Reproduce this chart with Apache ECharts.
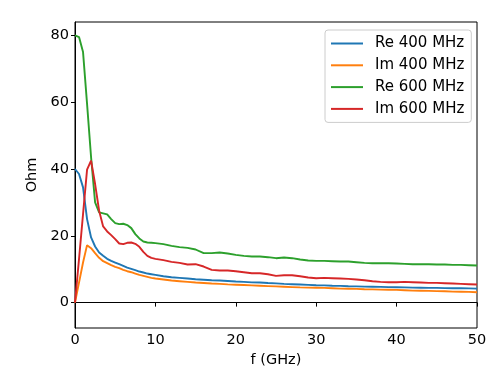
<!DOCTYPE html>
<html>
<head>
<meta charset="utf-8">
<script src="https://cdn.jsdelivr.net/npm/echarts@6/dist/echarts.min.js"></script>
<style>html,body{margin:0;padding:0;background:#fff;}#c{width:498px;height:374px;}</style>
</head>
<body>
<div id="c"></div>
<script>
const freq = [0,0.5,1,1.5,2,2.5,3,3.5,4,4.5,5,5.5,6,6.5,7,7.5,8,8.5,9,9.5,10,
  11,12,13,14,15,16,17,18,19,20,21,22,23,24,25,26,27,28,29,30,
  31,32,33,34,35,36,37,38,39,40,41,42,43,44,45,46,47,48,49,50];
const re400 = [40,38.5,34.5,25,19.5,16.8,15,14,13.1,12.5,12,11.5,11,10.5,10.1,9.7,9.3,9.0,8.7,8.5,8.3,
  7.9,7.6,7.4,7.2,7.0,6.85,6.7,6.6,6.45,6.3,6.2,6.05,6.0,5.85,5.75,5.6,5.5,5.4,5.3,5.2,
  5.15,5.05,5.0,4.9,4.85,4.8,4.75,4.7,4.65,4.6,4.55,4.5,4.45,4.4,4.4,4.35,4.3,4.3,4.25,4.2];
const im400 = [0,6,12,17.2,16.3,14.8,13.4,12.4,11.8,11.2,10.7,10.3,9.8,9.4,9.1,8.7,8.3,8.0,7.7,7.4,7.2,
  6.9,6.6,6.4,6.2,6.0,5.85,5.7,5.6,5.45,5.35,5.25,5.15,5.05,4.95,4.85,4.75,4.65,4.55,4.5,4.45,
  4.4,4.3,4.2,4.15,4.1,4.0,3.95,3.9,3.85,3.8,3.7,3.6,3.55,3.5,3.45,3.4,3.3,3.25,3.2,3.1];
const re600 = [80,79.5,75,59.5,43.5,30,27,26.7,26.4,25,23.8,23.5,23.6,23.2,22.3,20.5,19.2,18.3,18,17.9,17.8,
  17.5,17.0,16.6,16.4,15.9,14.8,14.8,15.0,14.7,14.3,14.0,13.8,13.8,13.6,13.3,13.5,13.3,12.9,12.6,12.5,
  12.5,12.4,12.3,12.3,12.1,11.9,11.8,11.8,11.8,11.7,11.6,11.5,11.5,11.5,11.4,11.4,11.3,11.3,11.2,11.1];
const im600 = [0,13,26.5,39.8,42.5,35.5,27.5,22.8,21.3,20.2,19,17.7,17.5,17.9,18,17.6,16.7,15.2,14.0,13.4,13.1,
  12.7,12.2,11.9,11.4,11.5,10.8,9.8,9.6,9.6,9.4,9.1,8.8,8.8,8.5,8.0,8.2,8.2,7.9,7.5,7.3,
  7.4,7.3,7.2,7.1,6.9,6.7,6.4,6.2,6.1,6.1,6.2,6.1,6.0,5.9,5.9,5.8,5.7,5.6,5.5,5.4];
const seriesNames = ['Re 400 MHz','Im 400 MHz','Re 600 MHz','Im 600 MHz'];
const seriesColors = ['#1f77b4','#ff7f0e','#2ca02c','#d62728'];
const yTicks = [0,20,40,60,80];
const xTicks = [0,10,20,30,40,50];

const allValues = [re400, im400, re600, im600];
const FONT = 'DejaVu Sans';
const chart = echarts.init(document.getElementById('c'), null, {renderer:'canvas'});
chart.setOption({
  animation:false,
  backgroundColor:'#fff',
  textStyle:{fontFamily:FONT},
  grid:{left:75,right:21,top:22,bottom:46,show:true,borderColor:'#000',borderWidth:1,backgroundColor:'transparent'},
  legend:{
    orient:'vertical', left:325, top:30,
    data:seriesNames,
    icon:'rect', itemWidth:32, itemHeight:2, itemGap:4.8,
    padding:[5,7,5,6],
    backgroundColor:'rgba(255,255,255,0.8)', borderColor:'#cccccc', borderWidth:1, borderRadius:3,
    textStyle:{fontFamily:FONT,fontSize:15,color:'#000',lineHeight:17,padding:[0,0,0,7]}
  },
  xAxis:{
    type:'value', min:0, max:50, interval:10,
    name:'f (GHz)', nameLocation:'middle', nameGap:24,
    nameTextStyle:{fontFamily:FONT,fontSize:14.5,color:'#000'},
    axisLine:{show:true,lineStyle:{color:'#000',width:1}},
    axisTick:{show:true,inside:false,length:4,lineStyle:{color:'#000'}},
    axisLabel:{fontFamily:FONT,fontSize:14.5,color:'#000',margin:5},
    splitLine:{show:false}
  },
  yAxis:{
    type:'value', min:-7.6, max:84,
    name:'Ohm', nameLocation:'middle', nameGap:27, nameRotate:90,
    nameTextStyle:{fontFamily:FONT,fontSize:14.5,color:'#000'},
    axisLine:{show:true,onZero:false,lineStyle:{color:'#000',width:1}},
    axisTick:{show:true,inside:false,length:4,lineStyle:{color:'#000'},customValues:yTicks},
    axisLabel:{fontFamily:FONT,fontSize:14.5,color:'#000',margin:6,customValues:yTicks},
    splitLine:{show:false}
  },
  series: seriesNames.map((n,i)=>({
    name:n, type:'line', showSymbol:false, symbol:'none', smooth:false,
    color:seriesColors[i],
    lineStyle:{color:seriesColors[i],width:1.9},
    data:freq.map((f,j)=>[f, allValues[i][j]])
  }))
});
</script>
</body>
</html>
